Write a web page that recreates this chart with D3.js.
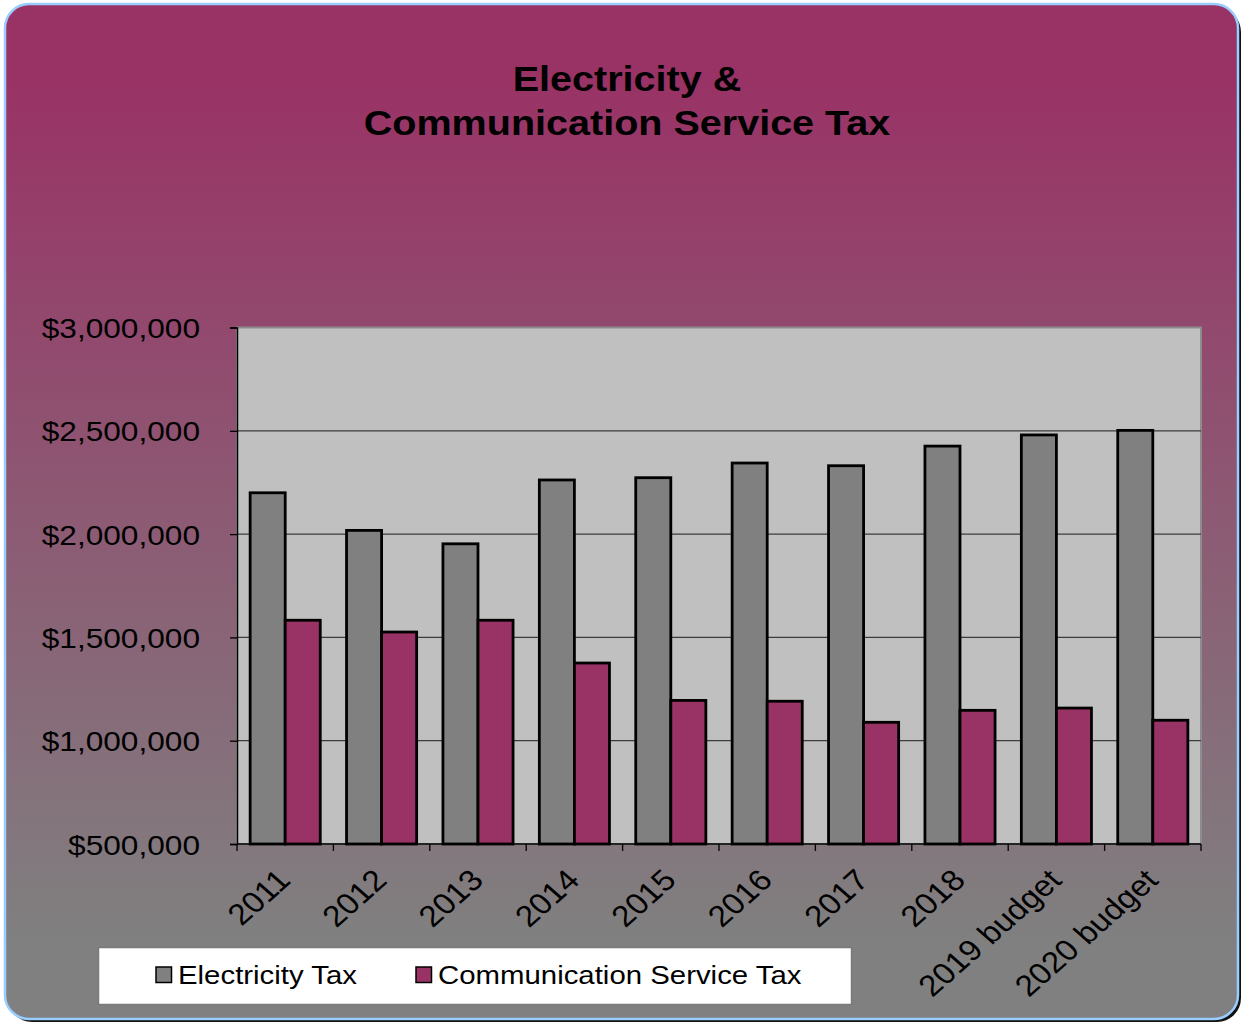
<!DOCTYPE html>
<html>
<head>
<meta charset="utf-8">
<script src="https://cdn.jsdelivr.net/npm/d3@7"></script>
<style>
  html, body { margin: 0; padding: 0; background: #ffffff; }
  svg { display: block; }
  text { font-family: "Liberation Sans", Arial, sans-serif; fill: #000; }
</style>
</head>
<body>
<svg id="chart" width="1248" height="1027"></svg>
<script>
// ---- data ----
const categories = ["2011", "2012", "2013", "2014", "2015", "2016", "2017", "2018", "2019 budget", "2020 budget"];
const seriesNames = ["Electricity Tax", "Communication Service Tax"];
const electricityTax = [2200000, 2018000, 1953000, 2262000, 2273000, 2344000, 2331000, 2426000, 2480000, 2502000];
const communicationTax = [1583000, 1526000, 1583000, 1376000, 1195000, 1191000, 1089000, 1147000, 1158000, 1099000];
const yTickValues = [500000, 1000000, 1500000, 2000000, 2500000, 3000000];
const titleLines = ["Electricity &", "Communication Service Tax"];
const seriesColors = ["#808080", "#993366"];

// ---- layout ----
const K = 1.13; // horizontal text stretch of the original image
const plot = { left: 237, right: 1201, top: 327.5, bottom: 844 };

const svg = d3.select("#chart");
const defs = svg.append("defs");
const grad = defs.append("linearGradient").attr("id", "bg").attr("x1", 0).attr("y1", 0).attr("x2", 0).attr("y2", 1);
grad.append("stop").attr("offset", "0%").attr("stop-color", "#993366");
grad.append("stop").attr("offset", "8%").attr("stop-color", "#993366");
grad.append("stop").attr("offset", "92%").attr("stop-color", "#808080");
grad.append("stop").attr("offset", "100%").attr("stop-color", "#808080");

// card shadow + card
svg.append("rect").attr("x", 8).attr("y", 8).attr("width", 1233).attr("height", 1014)
  .attr("rx", 24).attr("fill", "#111");
svg.append("rect").attr("x", 5).attr("y", 4).attr("width", 1233).attr("height", 1015)
  .attr("rx", 24).attr("fill", "url(#bg)").attr("stroke", "#99ccff").attr("stroke-width", 2.5);

// title
const title = svg.append("g");
titleLines.forEach((t, i) => {
  title.append("text")
    .attr("transform", `translate(627,${91 + i * 44}) scale(${K},1)`)
    .attr("text-anchor", "middle")
    .attr("font-weight", "bold")
    .attr("font-size", 35)
    .text(t);
});

// scales
const x0 = d3.scaleBand().domain(categories).range([plot.left, plot.right]).padding(0);
const x1 = d3.scaleBand().domain(seriesNames).range([0, x0.step()]).paddingInner(0).paddingOuter(0.375);
const y = d3.scaleLinear().domain([500000, 3000000]).range([plot.bottom, plot.top]);

// plot background
svg.append("rect").attr("x", plot.left).attr("y", plot.top)
  .attr("width", plot.right - plot.left).attr("height", plot.bottom - plot.top)
  .attr("fill", "#c0c0c0").attr("stroke", "#8c8c8c").attr("stroke-width", 2);

// gridlines
svg.append("g").selectAll("line").data(yTickValues.filter(v => v > 500000 && v < 3000000)).join("line")
  .attr("x1", plot.left).attr("x2", plot.right)
  .attr("y1", d => y(d)).attr("y2", d => y(d))
  .attr("stroke", "#3c3c3c").attr("stroke-width", 1.3);

// bars
const rows = categories.map((c, i) => ({ cat: c, vals: [electricityTax[i], communicationTax[i]] }));
const groups = svg.append("g").selectAll("g").data(rows).join("g")
  .attr("transform", d => `translate(${x0(d.cat)},0)`);
groups.selectAll("rect").data(d => d.vals.map((v, j) => ({ name: seriesNames[j], v, j }))).join("rect")
  .attr("x", d => x1(d.name))
  .attr("width", x1.bandwidth())
  .attr("y", d => y(d.v))
  .attr("height", d => y(500000) - y(d.v))
  .attr("fill", d => seriesColors[d.j])
  .attr("stroke", "#000").attr("stroke-width", 2.8);

// y axis
const yAxis = svg.append("g").attr("transform", `translate(${plot.left},0)`)
  .call(d3.axisLeft(y).tickValues(yTickValues).tickSize(7).tickPadding(30)
    .tickFormat(d => "$" + d3.format(",")(d)));
yAxis.select(".domain").attr("stroke", "#000").attr("stroke-width", 1.5);
yAxis.selectAll(".tick line").attr("stroke", "#000").attr("stroke-width", 1.3);
yAxis.selectAll(".tick text")
  .attr("x", null).attr("dy", null)
  .attr("transform", `translate(-37,10) scale(${K},1)`)
  .attr("font-size", 28).attr("font-family", "Liberation Sans, Arial, sans-serif").attr("fill", "#000");

// x axis
const xAxis = svg.append("g").attr("transform", `translate(0,${plot.bottom})`);
xAxis.append("line").attr("x1", plot.left).attr("x2", plot.right).attr("y1", 0).attr("y2", 0)
  .attr("stroke", "#000").attr("stroke-width", 1.5);
const boundaries = categories.map(c => x0(c)).concat([plot.right]);
xAxis.selectAll("line.tk").data(boundaries).join("line").attr("class", "tk")
  .attr("x1", d => d).attr("x2", d => d).attr("y1", 0).attr("y2", 7)
  .attr("stroke", "#000").attr("stroke-width", 1.3);
xAxis.selectAll("text").data(categories).join("text")
  .attr("transform", d => `translate(${x0(d) + x0.bandwidth() / 2 + 7},${38}) scale(${K},1) rotate(-45)`)
  .attr("text-anchor", "end")
  .attr("font-size", 29.5)
  .text(d => d);

// legend
const legend = svg.append("g");
legend.append("rect").attr("x", 98.5).attr("y", 947.5).attr("width", 753).attr("height", 57)
  .attr("fill", "#fff").attr("stroke", "#7a7a7a").attr("stroke-width", 1.5);
const legendItems = [{ name: seriesNames[0], sx: 156, tx: 178 }, { name: seriesNames[1], sx: 416, tx: 438 }];
legendItems.forEach((it, i) => {
  legend.append("rect").attr("x", it.sx).attr("y", 967).attr("width", 15.5).attr("height", 15.5)
    .attr("fill", seriesColors[i]).attr("stroke", "#000").attr("stroke-width", 1.5);
  legend.append("text")
    .attr("transform", `translate(${it.tx},${984}) scale(${K},1)`)
    .attr("font-size", 26)
    .text(it.name);
});
</script>
</body>
</html>
